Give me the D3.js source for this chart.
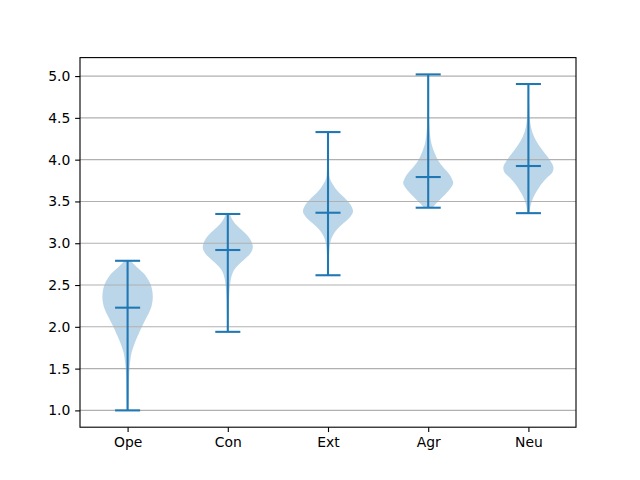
<!DOCTYPE html>
<html><head><meta charset="utf-8">
<script src="https://cdn.jsdelivr.net/npm/d3@7"></script>
<style>body{margin:0;background:#fff}svg{display:block}text{font-family:"DejaVu Sans",sans-serif}</style>
</head><body><svg id="c" width="640" height="480"></svg>
<script>
const categories = ["Ope","Con","Ext","Agr","Neu"];
const mins = [1.00, 1.94, 2.617, 3.425, 3.36];
const maxs = [2.79, 3.35, 4.33, 5.02, 4.905];
const means = [2.229, 2.919, 3.365, 3.792, 3.924];
const yTicks = [1.0,1.5,2.0,2.5,3.0,3.5,4.0,4.5,5.0];
// density profiles: [value, relative half-width]
const profOpe = [[2.79,0.12],[2.72,0.35],[2.64,0.64],[2.55,0.85],[2.48,0.95],[2.40,1.0],[2.32,1.0],[2.24,0.95],[2.16,0.84],[2.08,0.70],[2.00,0.57],[1.92,0.45],[1.84,0.33],[1.76,0.23],[1.68,0.15],[1.60,0.11],[1.52,0.08],[1.40,0.06],[1.25,0.05],[1.10,0.04],[1.00,0.03]];
const profCon = [[3.35,0.08],[3.30,0.15],[3.24,0.28],[3.18,0.48],[3.12,0.70],[3.06,0.87],[3.00,0.97],[2.95,1.0],[2.90,0.95],[2.85,0.82],[2.80,0.64],[2.75,0.45],[2.70,0.30],[2.65,0.20],[2.58,0.13],[2.50,0.09],[2.40,0.06],[2.30,0.045],[2.15,0.035],[2.00,0.025],[1.94,0.02]];
const profExt = [[4.33,0.02],[4.10,0.025],[3.90,0.04],[3.78,0.07],[3.70,0.20],[3.62,0.40],[3.54,0.67],[3.46,0.90],[3.38,1.0],[3.32,0.90],[3.26,0.70],[3.18,0.40],[3.10,0.20],[3.02,0.10],[2.94,0.06],[2.85,0.04],[2.70,0.03],[2.617,0.02]];
const profAgr = [[5.02,0.02],[4.70,0.025],[4.43,0.04],[4.31,0.07],[4.19,0.13],[4.07,0.27],[3.99,0.40],[3.91,0.60],[3.83,0.83],[3.76,0.96],[3.72,1.0],[3.66,0.90],[3.60,0.73],[3.52,0.47],[3.46,0.27],[3.425,0.18]];
const profNeu = [[4.905,0.02],[4.65,0.03],[4.51,0.05],[4.39,0.10],[4.27,0.23],[4.15,0.47],[4.07,0.67],[3.99,0.87],[3.91,1.0],[3.85,0.96],[3.78,0.73],[3.70,0.50],[3.60,0.29],[3.52,0.16],[3.44,0.08],[3.36,0.04]];
const profiles = [profOpe, profCon, profExt, profAgr, profNeu];

const W=640,H=480, L=80, R=576, T=57.6, B=427.2;
const svg = d3.select("#c");
const blue = "#1f77b4";
const x = d3.scaleLinear().domain([0.525,5.475]).range([L,R]);
const ymin = 1.0, ymax = 5.02, m = (ymax-ymin)*0.05;
const y = d3.scaleLinear().domain([ymin-m, ymax+m]).range([B,T]);
const halfW = 0.25;

// violins
categories.forEach((c,i)=>{
  const pos = i+1;
  const area = d3.area()
    .y(d=>y(d[0]))
    .x0(d=>x(pos - halfW*d[1]))
    .x1(d=>x(pos + halfW*d[1]))
    .curve(d3.curveCatmullRom);
  svg.append("path").datum(profiles[i]).attr("d",area)
    .attr("fill",blue).attr("fill-opacity",0.3).attr("stroke","none");
});

// grid (above patches, below lines as in matplotlib)
svg.append("g").selectAll("line").data(yTicks).join("line")
  .attr("x1",L).attr("x2",R).attr("y1",d=>y(d)).attr("y2",d=>y(d))
  .attr("stroke","#b0b0b0").attr("stroke-width",1.11);

// lines
const lw = 2.08;
const g = svg.append("g").attr("stroke",blue).attr("stroke-width",lw);
categories.forEach((c,i)=>{
  const pos=i+1;
  g.append("line").attr("x1",x(pos)).attr("x2",x(pos)).attr("y1",y(mins[i])).attr("y2",y(maxs[i]));
  [mins[i],maxs[i],means[i]].forEach(v=>{
    g.append("line").attr("x1",x(pos-0.125)).attr("x2",x(pos+0.125)).attr("y1",y(v)).attr("y2",y(v));
  });
});

// axes
const ax = svg.append("g").attr("transform",`translate(0,${B})`)
  .call(d3.axisBottom(x).tickValues([1,2,3,4,5]).tickFormat((d,i)=>categories[i]).tickSizeOuter(0).tickSize(4.86).tickPadding(4.86));
const ay = svg.append("g").attr("transform",`translate(${L},0)`)
  .call(d3.axisLeft(y).tickValues(yTicks).tickFormat(d3.format(".1f")).tickSizeOuter(0).tickSize(4.86).tickPadding(4.86));
[ax,ay].forEach(a=>{
  a.select(".domain").remove();
  a.selectAll(".tick line").attr("stroke","#000").attr("stroke-width",1.11);
  a.selectAll(".tick text").attr("font-size","13.9px").attr("fill","#000").attr("font-family","DejaVu Sans");
});
// spines
svg.append("rect").attr("x",L).attr("y",T).attr("width",R-L).attr("height",B-T)
  .attr("fill","none").attr("stroke","#000").attr("stroke-width",1.11);
</script></body></html>
